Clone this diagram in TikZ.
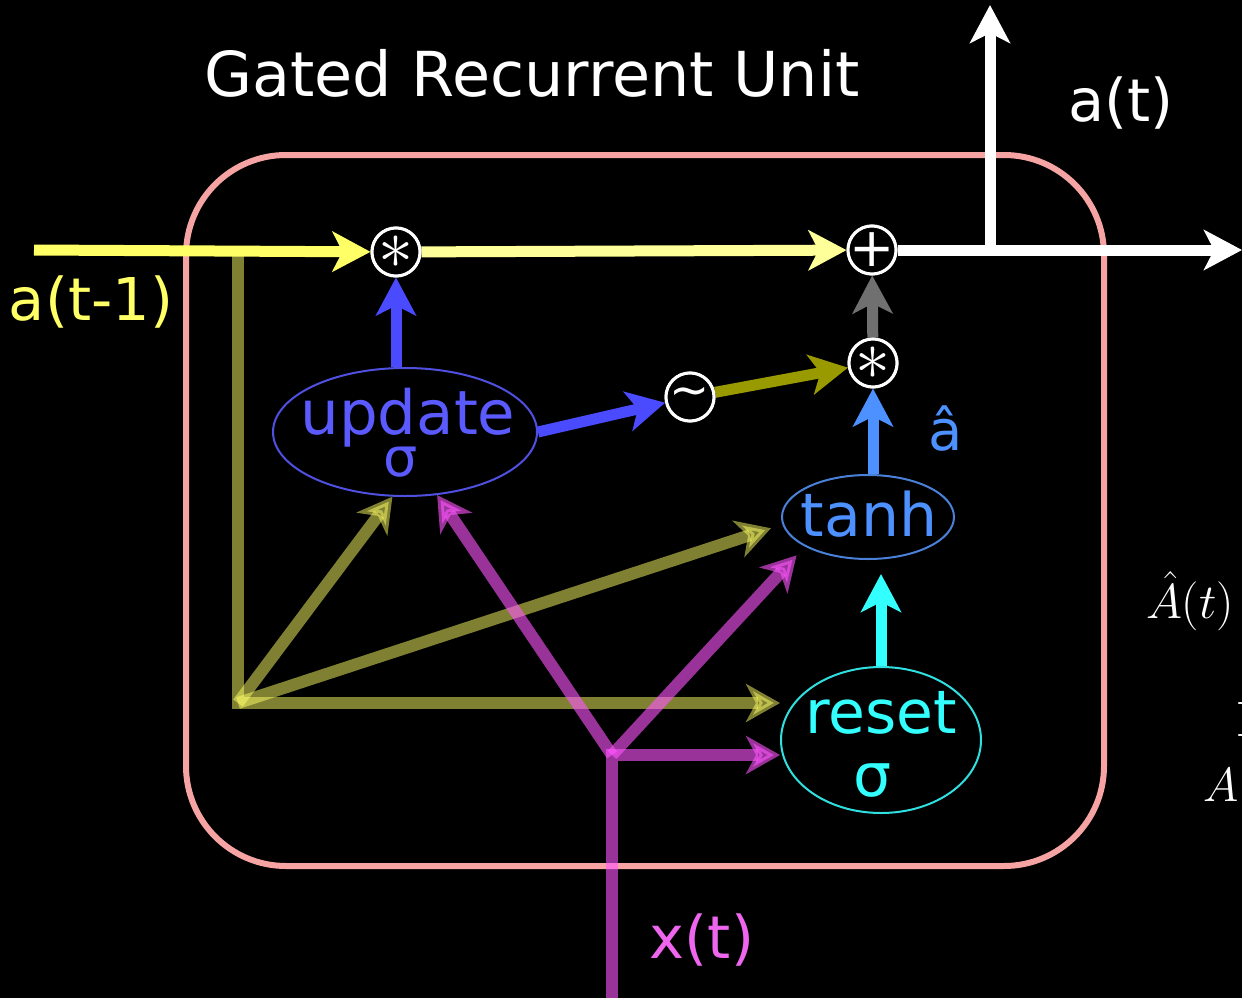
\RequirePackage{fix-cm}
\documentclass[tikz,border=0pt]{standalone}
\usepackage[no-math]{fontspec}
\setmainfont{DejaVu Sans}
\usetikzlibrary{arrows.meta,shapes.geometric}
\definecolor{bgblack}{HTML}{000000}
\definecolor{boxpink}{HTML}{F5A3A3}
\definecolor{yel}{HTML}{FFFF66}
\definecolor{yelpale}{HTML}{FFFF99}
\definecolor{olivesolid}{HTML}{999900}
\definecolor{updblue}{HTML}{4A4AFF}
\definecolor{updtext}{HTML}{5A5AFF}
\definecolor{updedge}{HTML}{5050E0}
\definecolor{tanhblue}{HTML}{4D90FF}
\definecolor{tanhedge}{HTML}{4A80D8}
\definecolor{cyanc}{HTML}{33FFFF}
\definecolor{cyanedge}{HTML}{30E0E0}
\definecolor{grayarr}{HTML}{707070}
\definecolor{magtext}{HTML}{EE66EE}
\definecolor{magline}{HTML}{FF55FF}
\newcommand\myfs[1]{\fontsize{#1}{#1}\selectfont}
\tikzset{
  op/.style={circle, draw=white, line width=3pt, fill=black, minimum size=48pt, inner sep=0pt, text=white},
  lbl/.style={inner sep=0pt, anchor=base},
  gell/.style={ellipse, inner sep=0pt, line width=2pt},
  bigtip/.style={-{Stealth[length=38pt,width=40pt,inset=10pt]}},
  smalltip/.style={-{Stealth[length=34pt,width=38pt,inset=10pt]}},
  olv/.style={draw=yel, opacity=0.5, line width=12pt, line join=miter},
  mag/.style={draw=magline, opacity=0.6, line width=12pt, line join=miter},
  solidln/.style={line width=11pt}
}
\begin{document}
\begin{tikzpicture}[x=1pt,y=-1pt]
\fill[bgblack] (0,0) rectangle (1242,998);
\useasboundingbox (0,0) rectangle (1242,998);
\clip (0,0) rectangle (1242,998);

% title and outside labels
\node[lbl, text=white, font=\myfs{62}] (title) at (532,96) {Gated Recurrent Unit};
\node[lbl, text=white, font=\myfs{59}] (atlbl) at (1121,121) {a(t)};
\node[lbl, text=yel, font=\myfs{59}] (aprev) at (91,320) {a(t-1)};
\node[lbl, text=magtext, font=\myfs{59}] (xlbl) at (702,958) {x(t)};
\node[lbl, text=tanhblue, font=\myfs{56}] (ahat) at (946,450) {â};
\node[lbl, text=white] (Ahat) at (1190,618) {\fontsize{49}{49}\selectfont $\hat{A}(t)$};
\node[inner sep=0pt, anchor=base west, text=white] (cut1) at (1234,715) {\fontsize{48}{48}\selectfont $-$};
\node[inner sep=0pt, anchor=base west, text=white] (cut2) at (1234,747) {\fontsize{48}{48}\selectfont $-$};
\node[inner sep=0pt, anchor=base west, text=white] (cutA) at (1203,801) {\fontsize{48}{48}\selectfont $A$};

% cell box
\draw[boxpink, line width=6pt, rounded corners=100pt] (186,155) rectangle (1104,866);

% gate ellipses
\node[gell, draw=updedge, minimum width=264pt, minimum height=128pt] (update) at (405,432) {};
\node[lbl, text=updtext, font=\myfs{61}] (updtxt) at (408,434) {update};
\node[lbl, text=updtext, font=\myfs{54}] (updsig) at (401,476) {σ};
\node[gell, draw=tanhedge, minimum width=172pt, minimum height=84pt] (tanh) at (868,517) {};
\node[lbl, text=tanhblue, font=\myfs{60}] (tanhtxt) at (869,536) {tanh};
\node[gell, draw=cyanedge, minimum width=200pt, minimum height=146pt] (rst) at (881,740) {};
\node[lbl, text=cyanc, font=\myfs{60}] (rsttxt) at (881,733) {reset};
\node[lbl, text=cyanc, font=\myfs{60}] (rstsig) at (873,796) {σ};

% coordinates
\coordinate (ain) at (34,250);
\coordinate (aout) at (1242,250);
\coordinate (br) at (990,250);
\coordinate (atop) at (990,5);
\coordinate (c1) at (238,703);
\coordinate (ctop) at (238,250);
\coordinate (m1) at (612,755);
\coordinate (xin) at (612,1000);

% operator circles
\node[op, font=\myfs{70}] (op1) at (396,252) {\makebox[0pt]{$\ast$}};
\node[op, font=\myfs{54}] (opp) at (872,250) {\makebox[0pt]{+}};
\node[op, font=\myfs{70}] (op2) at (873,363) {\makebox[0pt]{$\ast$}};
\node[op, font=\myfs{48}] (tl) at (690,397) {\makebox[0pt]{\textasciitilde}};

% translucent input lines: a(t-1)
\draw[olv, smalltip] (ctop) -- (c1) -- (c1 -| rst.west);
\draw[olv, smalltip] (c1) -- (update.-101);
\draw[olv, smalltip, shorten >=12pt] (c1) -- (tanh.185);
% translucent input lines: x(t)
\draw[mag, smalltip] (xin) -- (m1) -- (m1 -| rst.west);
\draw[mag, smalltip] (m1) -- (update.-63);
\draw[mag, smalltip, shorten >=12pt] (m1) -- (tanh.205);

% main flow
\draw[yel, solidln, bigtip] (ain) -- (op1);
\draw[yelpale, solidln, bigtip] (op1) -- (opp);
\draw[white, solidln, bigtip] (opp) -- (aout);
\draw[white, solidln, bigtip] (br) -- (atop);

% gate arrows
\draw[updblue, solidln, bigtip] (op1.south |- update.north) -- (op1.south);
\draw[updblue, solidln, bigtip] (update.east) -- (tl);
\draw[olivesolid, solidln, bigtip] (tl) -- (op2);
\draw[grayarr, solidln, bigtip] (op2) -- (opp);
\draw[tanhblue, solidln, bigtip] (op2.south |- tanh.north) -- (op2.south);
\draw[cyanc, solidln, bigtip, shorten >=14pt] (rst.north) -- (rst.north |- tanh.south);

% redraw operator circles on top
\node[op, font=\myfs{70}] (op1b) at (op1) {\makebox[0pt]{$\ast$}};
\node[op, font=\myfs{54}] (oppb) at (opp) {\makebox[0pt]{+}};
\node[op, font=\myfs{70}] (op2b) at (op2) {\makebox[0pt]{$\ast$}};
\node[op, font=\myfs{48}] (tlb) at (tl) {\makebox[0pt]{\textasciitilde}};
\end{tikzpicture}
\end{document}
